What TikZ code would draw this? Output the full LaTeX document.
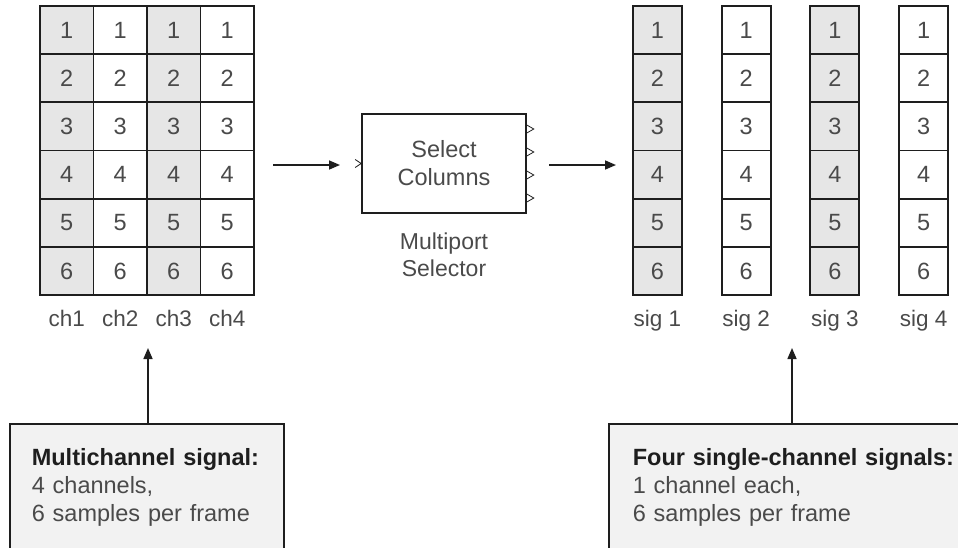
\documentclass[tikz,border=0pt]{standalone}
\usepackage{fontspec}
\setmainfont{Liberation Sans}
\usetikzlibrary{positioning,arrows.meta,calc}
\definecolor{cellgray}{HTML}{E6E6E6}
\definecolor{boxgray}{HTML}{F2F2F2}
\definecolor{txtgray}{HTML}{4A4A4A}
\definecolor{inkgray}{HTML}{1E1E1E}

\begin{document}
\begin{tikzpicture}[
    x=1pt, y=-1pt,
    cell/.style={draw=inkgray, line width=1.9pt, inner sep=0pt, minimum height=48.2pt,
        text=txtgray, font=\fontsize{23.5}{27}\selectfont},
    lbl/.style={inner sep=0pt, text=txtgray, font=\fontsize{22.5}{27}\selectfont},
    block/.style={draw=inkgray, line width=1.6pt, minimum width=164pt, minimum height=99pt,
        align=center, text=txtgray, font=\fontsize{23.5}{28}\selectfont},
    infobox/.style={draw=inkgray, line width=1.6pt, fill=boxgray, anchor=north west,
        inner xsep=22pt, inner ysep=25pt, align=left, text=txtgray,
        font=\fontsize{23.5}{28}\selectfont},
    port/.style={draw=inkgray, line width=0.8pt},
    sigarrow/.style={draw=inkgray, line width=1.6pt, -{Triangle[length=11pt,width=9pt]}}
]
\clip (0,0) rectangle (958,547);

% multichannel matrix
\foreach \c/\f in {1/cellgray,2/white,3/cellgray,4/white}
    \foreach \r in {1,...,6}
        \node[cell, fill=\f, minimum width=53.5pt] (L\c\r) at ({40+53.5*(\c-0.5)}, {6+48.17*(\r-0.5)}) {\r};
\foreach \c in {1,...,4}
    \node[lbl, below=14.5pt of L\c6] {ch\c};

% single-channel signals
\foreach \c/\f in {1/cellgray,2/white,3/cellgray,4/white}
    \foreach \r in {1,...,6}
        \node[cell, fill=\f, minimum width=49pt] (S\c\r) at ({657.5+88.7*(\c-1)}, {6+48.17*(\r-0.5)}) {\r};
\foreach \c in {1,...,4}
    \node[lbl, below=14.5pt of S\c6] {sig \c};

% selector block
\node[block] (sel) at (444,163.5) {Select\\Columns};
\node[lbl, below=19pt of sel, align=center, font=\fontsize{23}{27}\selectfont] (selname) {Multiport\\Selector};
\draw[port] ($(sel.west)+(-6,-4)$) -- (sel.west) -- ++(-6,4);
\foreach \dy in {-34.5,-11.5,11.5,34.5}
    \draw[port] ($(sel.north east)!0.5!(sel.south east)+(0,\dy-4)$) -- ++(7,4) -- ++(-7,4);

% flow arrows
\coordinate (ina) at (273,165);
\coordinate (inb) at (340,165);
\coordinate (outa) at (549,165);
\coordinate (outb) at (616,165);
\draw[sigarrow] (ina) -- (inb);
\draw[sigarrow] (outa) -- (outb);

% notes
\node[infobox, text width=230pt] (multi) at (9,423)
    {\textcolor{inkgray}{\bfseries Multichannel signal:}\\4 channels,\\6 samples per frame};
\node[infobox, text width=360pt, inner xsep=24pt] (single) at (608,423)
    {\textcolor{inkgray}{\bfseries Four single-channel signals:}\\1 channel each,\\6 samples per frame};

\coordinate (multitip) at (148,348);
\coordinate (singletip) at (792,348);
\draw[sigarrow] (multi.north -| multitip) -- (multitip);
\draw[sigarrow] (single.north -| singletip) -- (singletip);

\end{tikzpicture}
\end{document}
